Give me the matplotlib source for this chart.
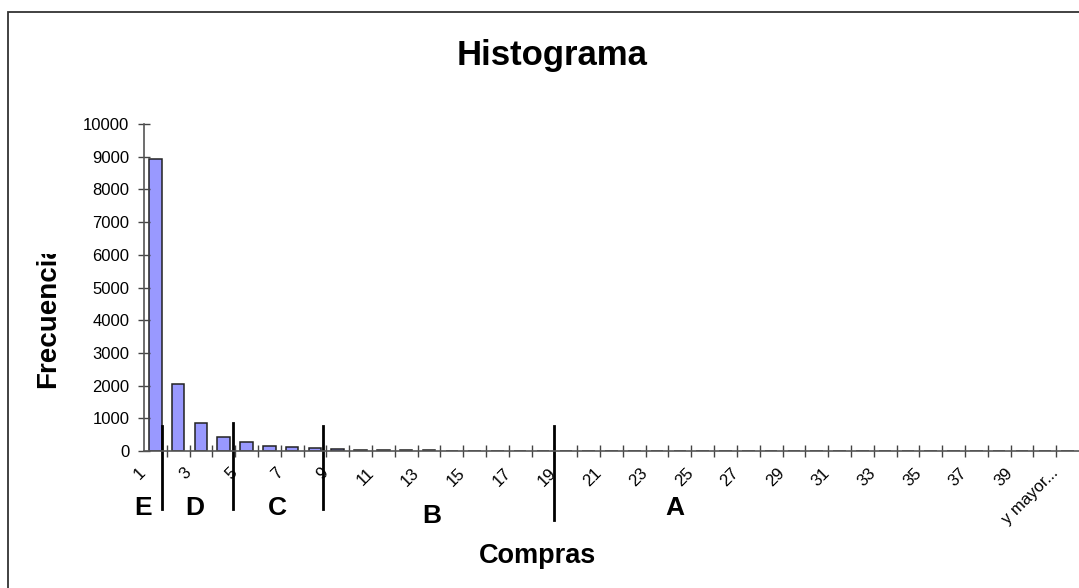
import matplotlib
matplotlib.use("Agg")
import matplotlib.pyplot as plt
from matplotlib.patches import Rectangle
from matplotlib.transforms import ScaledTranslation, Bbox, TransformedBbox

plt.rcParams['font.family'] = ['Liberation Sans', 'DejaVu Sans']

# categories: 1..40 plus the overflow bin
compras = ["1", "2", "3", "4", "5", "6", "7", "8", "9", "10",
           "11", "12", "13", "14", "15", "16", "17", "18", "19", "20",
           "21", "22", "23", "24", "25", "26", "27", "28", "29", "30",
           "31", "32", "33", "34", "35", "36", "37", "38", "39", "40",
           "y mayor..."]
frecuencia = [8920, 2050, 866, 428, 265, 143, 135, 92, 50, 45,
              45, 40, 40, 0, 0, 0, 0, 0, 0, 0,
              0, 0, 0, 0, 0, 0, 0, 0, 0, 0,
              0, 0, 0, 0, 0, 0, 0, 0, 0, 0,
              0]
y_ticks = [0, 1000, 2000, 3000, 4000, 5000, 6000, 7000, 8000, 9000, 10000]

# segment dividers (x in category index, y in data units) and segment letters
cortes_x = [0.31, 3.42, 7.34, 17.46]
cortes_top = [765, 856, 765, 765]
cortes_bottom = [-1774, -1774, -1774, -2110]
segmentos = ["E", "D", "C", "B", "A"]
segmentos_px = [(143, 508), (195, 508), (277, 508), (432, 516), (675, 508)]

W, H = 1079, 588
fig = plt.figure(figsize=(W / 100, H / 100), dpi=100)
ax = fig.add_axes([143.9 / W, (H - 451) / H, (W - 143.9) / W, 327 / H])

x = list(range(len(compras)))
ax.bar(x, frecuencia, width=0.55, color="#9999FF", edgecolor="#222222", linewidth=1.1)

ax.set_xlim(-0.5, len(compras) - 0.5)
ax.set_ylim(0, 10000)
ax.set_yticks(y_ticks)
ax.set_yticklabels([str(v) for v in y_ticks], fontsize=12)

ax.set_xticks([i for i in x if i % 2 == 0])
ax.set_xticklabels([compras[i] for i in x if i % 2 == 0], fontsize=12,
                   rotation=45, ha="right", va="center", rotation_mode="anchor")
ax.set_xticks([i + 0.5 for i in x[:-1]], minor=True)
ax.tick_params(axis="x", which="major", length=0, pad=14)
ax.tick_params(axis="x", which="minor", direction="inout", length=9, width=1, color="#444444")
ax.tick_params(axis="y", direction="inout", length=9, width=1, color="#444444", pad=6)
for lbl in ax.get_xticklabels():
    lbl.set_transform(lbl.get_transform() + ScaledTranslation(-0.12, 0, fig.dpi_scale_trans))

for s in ["top", "right"]:
    ax.spines[s].set_visible(False)
for s in ["left", "bottom"]:
    ax.spines[s].set_color("#555555")
    ax.spines[s].set_linewidth(1.2)

for cx, top, bot in zip(cortes_x, cortes_top, cortes_bottom):
    ax.plot([cx, cx], [bot, top], color="black", linewidth=2, clip_on=False)

for letra, (px, py) in zip(segmentos, segmentos_px):
    fig.text(px / W, 1 - py / H, letra, fontsize=19, fontweight="bold",
             ha="center", va="center")

fig.text(552 / W, 1 - 55 / H, "Histograma", fontsize=25, fontweight="bold",
         ha="center", va="center")
fig.text(537 / W, 1 - 556 / H, "Compras", fontsize=19.5, fontweight="bold",
         ha="center", va="center")
ylab = fig.text(48 / W, 1 - 388 / H, "Frecuencia", fontsize=20, fontweight="bold",
                rotation=90, ha="center", va="bottom")
ylab.set_clip_on(True)
ylab.set_clip_box(TransformedBbox(Bbox([[0, (H - 400) / H], [0.2, (H - 254) / H]]),
                                  fig.transFigure))

fig.add_artist(Rectangle((8 / W, -0.1), 1.2, (H - 12) / H + 0.1, transform=fig.transFigure,
                         fill=False, edgecolor="#333333", linewidth=1.3))

fig.savefig("out.png", dpi=100, facecolor="white")
